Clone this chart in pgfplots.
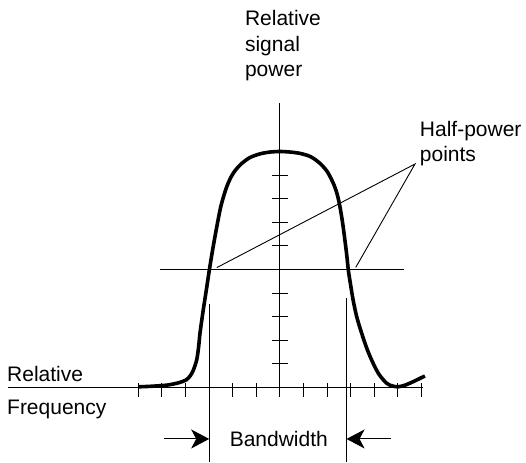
\documentclass[border=0pt]{standalone}
\usepackage{pgfplots}
\pgfplotsset{compat=1.18}
\usepackage{fontspec}
\setmainfont{Liberation Sans}
\usetikzlibrary{arrows.meta}
\begin{document}
\fontsize{21pt}{26pt}\selectfont
\begin{tikzpicture}[lbl/.style={inner sep=0pt, outer sep=0pt, font=\fontsize{21pt}{26pt}\selectfont}]
\begin{axis}[
  x=23.6pt, y=23.6pt,
  xmin=-11.864, xmax=10.424,
  ymin=-3.157, ymax=16.42,
  hide axis, clip=false,
]
\coordinate (bl) at (rel axis cs:0,0);
\coordinate (tr) at (rel axis cs:1,1);
% axes
\addplot[black, line width=1pt, no marks] coordinates {(-11.53,0) (6.06,0)};
\addplot[black, line width=1pt, no marks] coordinates {(0,-0.39) (0,12.05)};
% x ticks
\pgfplotsinvokeforeach{-6,-5,-4,-3,-2,-1,1,2,3,4,5,6}{
  \draw[black, line width=1pt] (axis cs:#1,0.18) -- (axis cs:#1,-0.39);
}
% y ticks
\pgfplotsinvokeforeach{1,2,3,4,6,7,8,9}{
  \draw[black, line width=1pt] (axis cs:-0.35,#1) -- (axis cs:0.35,#1);
}
% half-power line
\addplot[black, line width=1pt, no marks] coordinates {(-5.1,5) (5.25,5)};
% bandwidth vertical lines
\addplot[black, line width=1pt, no marks] coordinates {(-3.0,3.54) (-3.0,-3.157)};
\addplot[black, line width=1pt, no marks] coordinates {(2.82,3.78) (2.82,-3.157)};
% leader lines
\addplot[black, line width=0.9pt, no marks] coordinates {(-2.68,5.08) (5.72,9.47) (3.21,5.09)};
% curve
\addplot[black, line width=3.6pt, no marks, smooth, line cap=butt] coordinates {
(-6,0.03) (-5.5,0.05) (-4.8,0.1) (-4.3,0.2) (-3.98,0.32) (-3.8,0.5) (-3.67,0.74)
(-3.53,1.17) (-3.45,1.7) (-3.39,2.3) (-3.25,3.3) (-3.1,4.27) (-3.0,4.94) (-2.86,5.8)
(-2.68,6.8) (-2.5,7.7) (-2.26,8.5) (-2.0,9.05) (-1.69,9.43) (-1.3,9.73) (-0.85,9.9)
(-0.4,9.98) (0,10) (0.4,9.98) (0.85,9.92) (1.3,9.78) (1.69,9.5) (2.0,9.15) (2.26,8.65)
(2.42,8.2) (2.54,7.66) (2.65,7.0) (2.75,6.25) (2.83,5.6) (2.9,4.94) (3.0,4.3) (3.1,3.7)
(3.25,3.0) (3.46,2.3) (3.7,1.6) (3.95,1.02) (4.2,0.55) (4.52,0.18) (4.75,0.07)
(5.0,0.03) (5.3,0.1) (5.65,0.25) (6.14,0.49)
};
% bandwidth arrows
\draw[black, line width=1pt, -{Stealth[length=18pt,width=19pt,inset=5pt]}] (axis cs:-4.93,-2.18) -- (axis cs:-3.0,-2.18);
\draw[black, line width=1pt, -{Stealth[length=18pt,width=19pt,inset=5pt]}] (axis cs:4.69,-2.18) -- (axis cs:2.82,-2.18);
% texts
\node[lbl, anchor=base west] at (axis cs:-1.48,15.36) {Relative};
\node[lbl, anchor=base west] at (axis cs:-1.48,14.24) {signal};
\node[lbl, anchor=base west] at (axis cs:-1.48,13.16) {power};
\node[lbl, anchor=base west] at (axis cs:5.93,10.63) {Half-power};
\node[lbl, anchor=base west] at (axis cs:5.93,9.57) {points};
\node[lbl, anchor=base west] at (axis cs:-11.56,0.25) {Relative};
\node[lbl, anchor=base west] at (axis cs:-11.56,-1.14) {Frequency};
\node[lbl, anchor=base] at (axis cs:-0.05,-2.51) {Bandwidth};
\end{axis}
\pgfresetboundingbox
\path[use as bounding box] (bl) rectangle (tr);
\end{tikzpicture}
\end{document}
